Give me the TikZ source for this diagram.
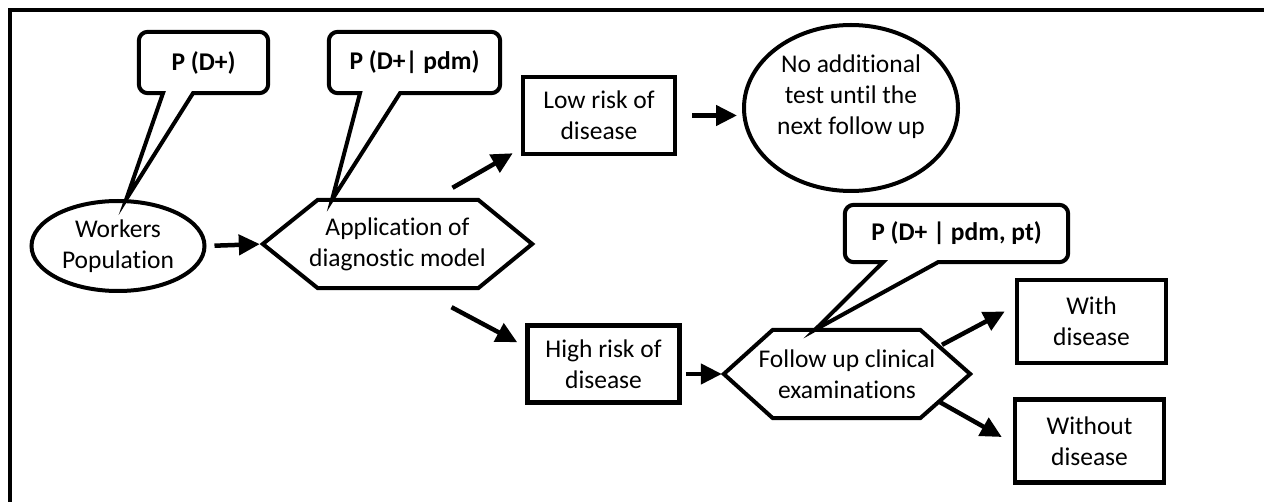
\documentclass[tikz,border=0pt]{standalone}
\usepackage{fontspec}
\setmainfont{Carlito}[Ligatures=NoCommon]
\usetikzlibrary{shapes.geometric,arrows.meta}

\tikzset{
  arr/.style={line width=4.5pt,-{Triangle[length=21pt,width=20pt]}},
  oval/.style={draw,ellipse,line width=4pt,align=center,inner sep=0pt},
  hexline/.style={line width=4pt},
  hextext/.style={align=center,inner sep=0pt,minimum height=88pt},
  riskbox/.style={draw,line width=4.5pt,minimum width=152pt,minimum height=77pt,
    align=center,inner sep=0pt},
  endbox/.style={draw,line width=4.5pt,minimum width=149pt,minimum height=83pt,
    align=center,inner sep=0pt},
  bubble/.style={align=center,inner sep=0pt,font=\fontsize{25.5}{31}\selectfont\bfseries},
  bubbleline/.style={line width=4pt}
}

\begin{document}
\begin{tikzpicture}[x=1pt,y=-1pt,font=\fontsize{25.5}{31}\selectfont]
  \useasboundingbox (0,0) rectangle (1264,502);

  % frame, only top and left edge are visible
  \draw[line width=3.5pt] (10,502) -- (10,10) -- (1264,10);

  % main flow
  \node[oval,minimum width=173pt,minimum height=90pt] (wp) at (118,246) {Workers\\Population};
  \node[hextext,minimum width=269pt] (app) at (397.5,244) {Application of\\diagnostic model};
  \node[riskbox] (low) at (599,115.5) {Low risk of\\disease};
  \node[riskbox] (high) at (603.5,364) {High risk of\\disease};
  \node[oval,minimum width=214pt,minimum height=166pt,text depth=27pt] (noadd) at (851,108)
    {No additional\\test until the\\next follow up};
  \node[hextext,minimum width=246pt] (fu) at (847,374) {Follow up clinical\\examinations};
  \node[endbox] (with) at (1091.5,321.5) {With\\disease};
  \node[endbox] (without) at (1089.5,441) {Without\\disease};

  % hexagon outlines round the two decision texts
  \draw[hexline] (app.west) -- ([xshift=55pt]app.north west) -- ([xshift=-54pt]app.north east)
    -- (app.east) -- ([xshift=-54pt]app.south east) -- ([xshift=55pt]app.south west) -- cycle;
  \draw[hexline] (fu.west) -- ([xshift=49pt]fu.north west) -- ([xshift=-50pt]fu.north east)
    -- (fu.east) -- ([xshift=-50pt]fu.south east) -- ([xshift=49pt]fu.south west) -- cycle;

  % probability bubbles
  \node[bubble,minimum width=129pt,minimum height=61pt] (pd) at (203.5,62.5) {P (D+)};
  \node[bubble,minimum width=171pt,minimum height=61pt] (pdm) at (414.5,62.5) {P (D+| pdm)};
  \node[bubble,minimum width=223pt,minimum height=57pt] (pdmpt) at (956.5,233.5) {P (D+ | pdm, pt)};

  \draw[bubbleline] (wp.80) -- ([xshift=-10.5pt]pd.south) [rounded corners=9pt]
    -- (pd.south east) -- (pd.north east) -- (pd.north west) -- (pd.south west)
    [sharp corners] -- ([xshift=-40.5pt]pd.south) -- cycle;
  \draw[bubbleline] ([xshift=-65.5pt]app.north) -- ([xshift=-14.5pt]pdm.south) [rounded corners=9pt]
    -- (pdm.south east) -- (pdm.north east) -- (pdm.north west) -- (pdm.south west)
    [sharp corners] -- ([xshift=-54.5pt]pdm.south) -- cycle;
  \draw[bubbleline] ([xshift=-32pt]fu.north) -- ([xshift=-18.5pt]pdmpt.south) [rounded corners=9pt]
    -- (pdmpt.south east) -- (pdmpt.north east) -- (pdmpt.north west) -- (pdmpt.south west)
    [sharp corners] -- ([xshift=-73.5pt]pdmpt.south) -- cycle;

  % arrows
  \draw[arr,shorten <=8pt,shorten >=3pt] (wp.east) -- (app.west);
  \draw[arr] ([shift={(55pt,12pt)}]app.north) -- ([shift={(-8pt,3pt)}]low.south west);
  \draw[arr] ([shift={(54pt,-19pt)}]app.south) -- ([shift={(-8pt,-19pt)}]high.north west);
  \draw[arr,shorten <=15pt,shorten >=5pt] (low.east) -- (low.east -| noadd.west);
  \draw[arr,shorten <=4pt,shorten >=2pt] (high.east |- fu.west) -- (fu.west);
  \draw[arr] ([shift={(95pt,-15pt)}]fu.north) -- ([shift={(-10pt,10pt)}]with.west);
  \draw[arr] ([shift={(93pt,16pt)}]fu.south) -- ([shift={(-11pt,4pt)}]without.west);

\end{tikzpicture}
\end{document}
